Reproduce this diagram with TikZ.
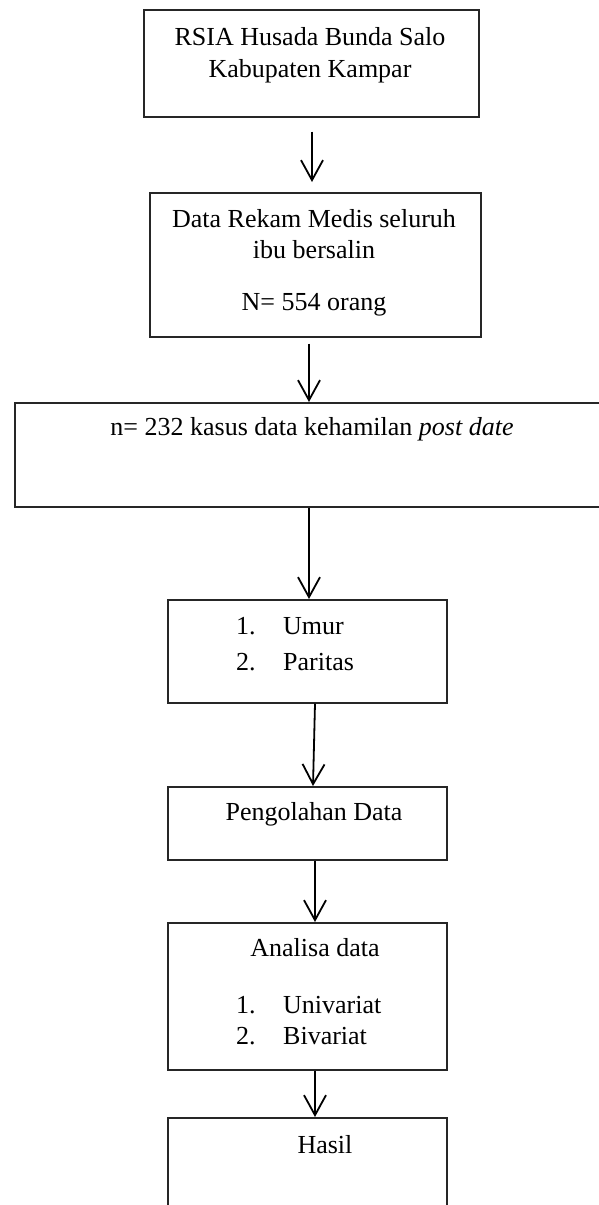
\documentclass[tikz,border=0pt]{standalone}
\usepackage{fontspec}
\setmainfont{Liberation Serif}
\usetikzlibrary{arrows.meta,calc}
\begin{document}
\begin{tikzpicture}[x=1pt,y=-1pt,
  box/.style={draw=black!85,line width=1.6pt,rectangle,inner sep=0pt,anchor=north west},
  lbl/.style={inner sep=0pt,anchor=base,font=\fontsize{26}{31}\selectfont},
  lbw/.style={lbl,anchor=base west},
  arr/.style={line width=1.8pt,-{Straight Barb[length=20pt,width=22pt,line width=1.8pt]}}]
\useasboundingbox (0,0) rectangle (598,1205);
% boxes
\node[box,minimum width=335pt,minimum height=107pt] (b1) at (143,9) {};
\node[box,minimum width=331pt,minimum height=144pt] (b2) at (149,192) {};
\node[box,minimum width=596pt,minimum height=104pt] (b3) at (14,402) {};
\node[box,minimum width=279pt,minimum height=103pt] (b4) at (167,599) {};
\node[box,minimum width=279pt,minimum height=73pt] (b5) at (167,786) {};
\node[box,minimum width=279pt,minimum height=147pt] (b6) at (167,922) {};
\node[box,minimum width=279pt,minimum height=130pt] (b7) at (167,1117) {};
% texts
\node[lbl] (t1a) at (310,45) {RSIA Husada Bunda Salo};
\node[lbl] (t1b) at (310,77) {Kabupaten Kampar};
\node[lbl] (t2a) at (314,227) {Data Rekam Medis seluruh};
\node[lbl] (t2b) at (314,258) {ibu bersalin};
\node[lbl] (t2c) at (314,310) {N= 554 orang};
\node[lbl] (t3) at (312,435) {n= 232 kasus data kehamilan \textit{post date}};
\node[lbw] (t4n1) at (236,634) {1.};
\node[lbw] (t4a) at (283,634) {Umur};
\node[lbw] (t4n2) at (236,670) {2.};
\node[lbw] (t4b) at (283,670) {Paritas};
\node[lbl] (t5) at (314,820) {Pengolahan Data};
\node[lbl] (t6) at (315,956) {Analisa data};
\node[lbw] (t6n1) at (236,1013) {1.};
\node[lbw] (t6a) at (283,1013) {Univariat};
\node[lbw] (t6n2) at (236,1044) {2.};
\node[lbw] (t6b) at (283,1044) {Bivariat};
\node[lbl] (t7) at (325,1153) {Hasil};
% arrow x positions
\coordinate (x1) at (312,0);
\coordinate (x2) at (309,0);
\coordinate (x4a) at (315,0);
\coordinate (x4b) at (313,0);
\coordinate (x5) at (315,0);
% connectors
\draw[arr,shorten <=14pt,shorten >=10pt] (b1.south -| x1) -- (b2.north -| x1);
\draw[arr,shorten <=6pt] (b2.south -| x2) -- (b3.north -| x2);
\draw[arr] (b3.south -| x2) -- (b4.north -| x2);
\draw[arr] (b4.south -| x4a) -- (b5.north -| x4b);
\draw[arr] (b5.south -| x5) -- (b6.north -| x5);
\draw[arr] (b6.south -| x5) -- (b7.north -| x5);
\end{tikzpicture}
\end{document}
